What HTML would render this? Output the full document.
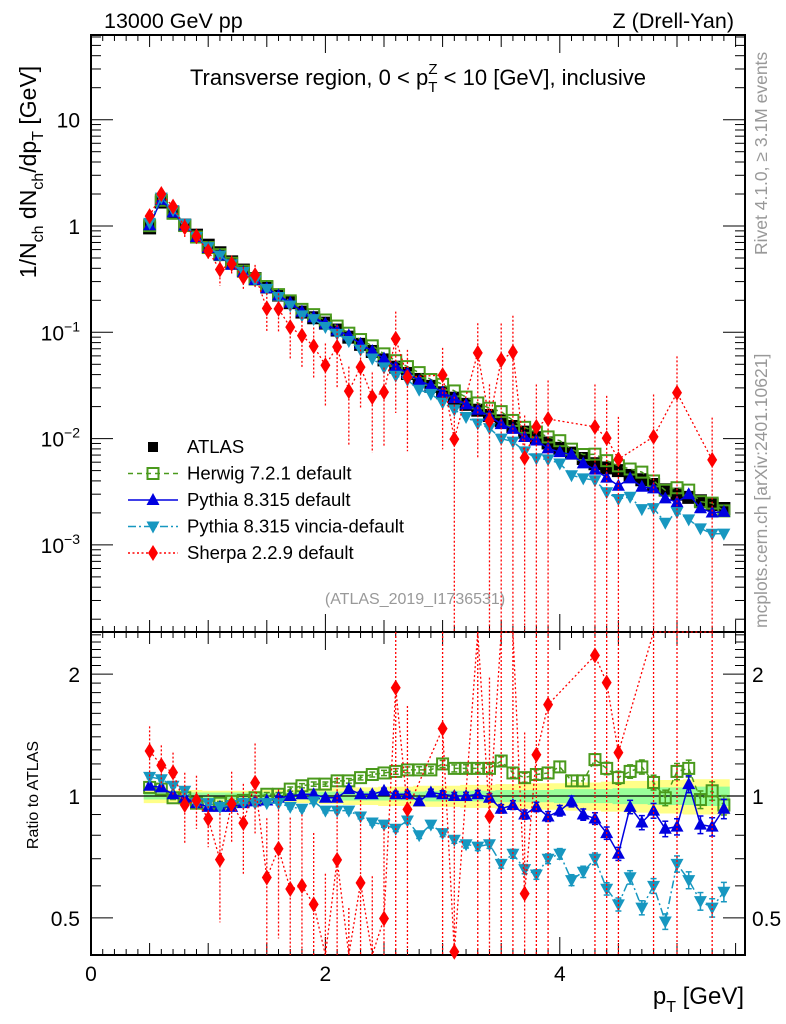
<!DOCTYPE html>
<html><head><meta charset="utf-8"><style>
html,body{margin:0;padding:0;background:#fff;}
svg{display:block;font-family:"Liberation Sans",Arial,sans-serif;}
</style></head><body>
<svg id="chart" width="786" height="1024" viewBox="0 0 786 1024" xmlns="http://www.w3.org/2000/svg">
<g id="bands"></g>
<g id="axes"></g>
<g id="series"></g>
<text x="104" y="28" font-size="21.5">13000 GeV pp</text>
<text x="734" y="28" font-size="21.5" text-anchor="end">Z (Drell-Yan)</text>
<text x="418" y="85" font-size="22" text-anchor="middle">Transverse region, 0 &lt; p<tspan dy="7" font-size="15">T</tspan><tspan dy="-18" dx="-9" font-size="15">Z</tspan><tspan dy="11"> &lt; 10 [GeV], inclusive</tspan></text>
<text transform="translate(36,172) rotate(-90)" font-size="23" text-anchor="middle">1/N<tspan dy="7" font-size="16">ch</tspan><tspan dy="-7"> dN</tspan><tspan dy="7" font-size="16">ch</tspan><tspan dy="-7">/dp</tspan><tspan dy="7" font-size="16">T</tspan><tspan dy="-7"> [GeV]</tspan></text>
<text transform="translate(38,795) rotate(-90)" font-size="16" text-anchor="middle">Ratio to ATLAS</text>
<text x="744" y="1004" font-size="24" text-anchor="end">p<tspan dy="8" font-size="16">T</tspan><tspan dy="-8"> [GeV]</tspan></text>
<text transform="translate(767,255) rotate(-90)" font-size="17.5" fill="#999">Rivet 4.1.0, ≥ 3.1M events</text>
<text transform="translate(767,628) rotate(-90)" font-size="17.5" fill="#999">mcplots.cern.ch [arXiv:2401.10621]</text>
<text x="415" y="604" font-size="16" fill="#999" text-anchor="middle">(ATLAS_2019_I1736531)</text>
<g id="legend"></g>
</svg>
<script>
const pT = [0.5,0.6,0.7,0.8,0.9,1.0,1.1,1.2,1.3,1.4,1.5,1.6,1.7,1.8,1.9,2.0,2.1,2.2,2.3,2.4,2.5,2.6,2.7,2.8,2.9,3.0,3.1,3.2,3.3,3.4,3.5,3.6,3.7,3.8,3.9,4.0,4.1,4.2,4.3,4.4,4.5,4.6,4.7,4.8,4.9,5.0,5.1,5.2,5.3,5.4];
const atlas = [0.96,1.68,1.33,1.02,0.82,0.66,0.56,0.46,0.385,0.32,0.267,0.224,0.19,0.155,0.137,0.122,0.105,0.09,0.077,0.066,0.055,0.047,0.041,0.036,0.031,0.027,0.024,0.021,0.0185,0.0165,0.0147,0.013,0.0115,0.0102,0.0091,0.0081,0.0073,0.0065,0.0058,0.0053,0.005,0.0045,0.0041,0.0037,0.0033,0.003,0.0028,0.0026,0.0024,0.0022];
const herwigRatio = [1.05,1.04,0.99,0.99,0.96,0.95,0.96,0.97,0.975,0.99,1.01,1.01,1.04,1.06,1.07,1.07,1.09,1.09,1.11,1.13,1.14,1.15,1.16,1.16,1.16,1.20,1.17,1.17,1.17,1.17,1.22,1.14,1.11,1.13,1.14,1.18,1.09,1.09,1.23,1.17,1.11,1.15,1.18,1.08,0.99,1.15,1.17,0.98,1.03,0.95];
const pythiaRatio = [1.06,1.05,1.01,0.99,0.96,0.94,0.94,0.94,0.96,0.97,0.975,0.99,1.0,1.01,1.01,0.99,0.99,1.04,1.01,1.01,1.03,1.01,1.01,0.97,1.02,1.01,1.0,1.0,1.01,0.99,0.93,0.95,0.90,0.94,0.89,0.92,0.97,0.90,0.88,0.81,0.72,0.94,0.86,0.92,0.83,0.84,1.07,0.85,0.84,0.93];
const vinciaRatio = [1.115,1.10,1.06,1.03,0.96,0.96,0.94,0.95,0.96,0.96,0.96,0.96,0.94,0.93,0.97,0.92,0.92,0.92,0.89,0.86,0.85,0.83,0.87,0.80,0.85,0.81,0.78,0.76,0.75,0.76,0.68,0.72,0.66,0.64,0.70,0.72,0.62,0.65,0.70,0.59,0.54,0.63,0.53,0.60,0.49,0.68,0.62,0.55,0.53,0.58];
const sherpa = [1.24,2.0,1.52,0.97,0.80,0.58,0.39,0.44,0.33,0.345,0.168,0.166,0.112,0.093,0.074,0.049,0.073,0.028,0.047,0.0246,0.0274,0.087,0.038,null,null,0.0396,0.0099,null,0.064,0.0147,0.055,0.065,0.0066,0.0129,0.0153,null,null,null,0.0129,0.0101,0.0064,null,null,0.0104,null,0.027,null,null,0.0063,null];
const sherpaErr = [0.15,0.12,0.12,0.2,0.15,0.15,0.3,0.2,0.25,0.25,0.4,0.4,0.5,0.5,0.5,0.6,0.6,0.7,0.6,0.7,0.7,0.8,0.8,0,0,0.8,1.5,0,0.9,1.2,1.2,1.2,1.5,1.5,1.3,0,0,0,1.5,1.5,1.5,0,0,1.5,0,1.2,0,0,1.5,0];
const mcErr = [0.01,0.01,0.01,0.01,0.01,0.01,0.01,0.01,0.01,0.01,0.01,0.01,0.012,0.012,0.012,0.012,0.012,0.013,0.013,0.014,0.015,0.016,0.017,0.018,0.019,0.02,0.02,0.021,0.022,0.023,0.024,0.025,0.026,0.027,0.028,0.03,0.031,0.032,0.033,0.035,0.037,0.038,0.04,0.042,0.044,0.046,0.048,0.05,0.052,0.055];
const bandInner = [0.02,0.02,0.02,0.02,0.02,0.02,0.02,0.02,0.02,0.02,0.02,0.02,0.02,0.02,0.025,0.025,0.025,0.025,0.025,0.025,0.025,0.025,0.025,0.025,0.03,0.03,0.03,0.03,0.03,0.03,0.035,0.035,0.035,0.035,0.035,0.04,0.04,0.04,0.04,0.04,0.045,0.045,0.045,0.05,0.05,0.05,0.05,0.055,0.055,0.055];
const bandOuter = [0.04,0.04,0.035,0.035,0.035,0.03,0.03,0.03,0.03,0.03,0.035,0.035,0.035,0.04,0.04,0.045,0.045,0.05,0.05,0.05,0.055,0.055,0.055,0.06,0.06,0.06,0.06,0.065,0.065,0.065,0.07,0.07,0.07,0.075,0.075,0.075,0.08,0.08,0.08,0.085,0.085,0.09,0.09,0.09,0.095,0.095,0.1,0.1,0.1,0.1];
const xTicks = [0,2,4];
const yMainTicks = ["10^-3","10^-2","10^-1","1","10"];
const yRatioTicks = [0.5,1,2];

const NS="http://www.w3.org/2000/svg";
const L=91,R=745,T=35,MB=632,B=955;
const X = v => L + v*117.2;
const Y = v => 226 - Math.log10(v)*106.3;
const YR = v => 796 - Math.log10(v)*405;
function mk(parent,tag,attrs){const e=document.createElementNS(NS,tag);for(const k in attrs)e.setAttribute(k,attrs[k]);parent.appendChild(e);return e;}
const axes=document.getElementById('axes'), ser=document.getElementById('series'), bands=document.getElementById('bands');

function bandPath(arr){let up='',dn='';for(let i=0;i<pT.length;i++){const x0=X(pT[i]-0.05),x1=X(pT[i]+0.05);up+=`L${x0},${YR(1+arr[i])}L${x1},${YR(1+arr[i])}`;dn=`L${x1},${YR(1-arr[i])}L${x0},${YR(1-arr[i])}`+dn;}return 'M'+up.slice(1)+dn+'Z';}
const bo=mk(bands,'path',{d:bandPath(bandOuter),fill:'#ffff88'});


const bi=mk(bands,'path',{d:bandPath(bandInner),fill:'#99ff99'});



const f1=mk(axes,'rect',{x:L,y:T,width:R-L,height:MB-T,fill:'none',stroke:'#000','stroke-width':2});


const f2=mk(axes,'rect',{x:L,y:MB,width:R-L,height:B-MB,fill:'none',stroke:'#000','stroke-width':2});


const one=mk(axes,'line',{x1:L,x2:R,y1:YR(1),y2:YR(1),stroke:'#000','stroke-width':1.2});



for(let v=0;v<=5.55;v+=0.1){const vv=Math.round(v*10)/10;const maj=Math.abs(vv-Math.round(vv/2)*2)<1e-6;const mid=Math.abs(vv*2-Math.round(vv*2))<1e-6;const len=maj?18:(mid?12:6);
 for(const [y0,s] of [[MB,-1],[B,-1],[T,1],[MB,1]]){mk(axes,'line',{x1:X(vv),x2:X(vv),y1:y0,y2:y0+s*len,stroke:'#000','stroke-width':1});}}
xTicks.forEach(v=>{const t=mk(axes,'text',{x:X(v),y:981,'font-size':21,'text-anchor':'middle'});t.textContent=v;

});

for(let d=-4;d<=1;d++){for(let m=1;m<=9;m++){const v=m*Math.pow(10,d);const y=Y(v);if(y<T||y>MB)continue;const len=m===1?22:10;
 mk(axes,'line',{x1:L,x2:L+len,y1:y,y2:y,stroke:'#000'});mk(axes,'line',{x1:R,x2:R-len,y1:y,y2:y,stroke:'#000'});}}
yMainTicks.forEach(s=>{let v,t;if(s.indexOf('^')>0){const e=+s.split('^')[1];v=Math.pow(10,e);t=mk(axes,'text',{x:80,y:Y(v)+8,'font-size':21,'text-anchor':'end'});
 t.innerHTML='10<tspan dy="-9" font-size="14">'+(e<0?'\u2212'+(-e):e)+'</tspan>';}else{v=+s;t=mk(axes,'text',{x:80,y:Y(v)+8,'font-size':21,'text-anchor':'end'});t.textContent=s;}
 
 });

[0.5,0.6,0.7,0.8,0.9,1,1.1,1.2,1.3,1.4,1.5,1.6,1.7,1.8,1.9,2,2.1,2.2,2.3,2.4,2.5].forEach(v=>{const y=YR(v);if(y<MB||y>B)return;const len=(v===0.5||v===1||v===2)?22:10;
 mk(axes,'line',{x1:L,x2:L+len,y1:y,y2:y,stroke:'#000'});mk(axes,'line',{x1:R,x2:R-len,y1:y,y2:y,stroke:'#000'});});
yRatioTicks.forEach(v=>{const t1=mk(axes,'text',{x:80,y:YR(v)+8,'font-size':21,'text-anchor':'end'});t1.textContent=v;
 
 
 const t2=mk(axes,'text',{x:752,y:YR(v)+8,'font-size':21});t2.textContent=v;
 
 });

function marker(g,type,x,y,col){const s=6.5;
 if(type==='sq')return mk(g,'rect',{x:x-s,y:y-s,width:2*s,height:2*s,fill:'#000'});
 if(type==='osq')return mk(g,'rect',{x:x-5.5,y:y-5.5,width:11,height:11,fill:'none',stroke:col,'stroke-width':2});
 if(type==='tri')return mk(g,'path',{d:`M${x},${y-7}L${x+6.5},${y+5}L${x-6.5},${y+5}Z`,fill:col});
 if(type==='itri')return mk(g,'path',{d:`M${x},${y+7}L${x+6.5},${y-5}L${x-6.5},${y-5}Z`,fill:col});
 if(type==='dia')return mk(g,'path',{d:`M${x},${y-8}L${x+5},${y}L${x},${y+8}L${x-5},${y}Z`,fill:col});}
function clipY(y,top,bot){return Math.max(top,Math.min(bot,y));}

const mcs=[
 {name:'herwig',ratio:herwigRatio,col:'#4a9a1c',type:'osq',dash:'5,4'},
 {name:'pythia',ratio:pythiaRatio,col:'#0000e0',type:'tri',dash:''},
 {name:'vincia',ratio:vinciaRatio,col:'#1797c0',type:'itri',dash:'8,3,2,3'}
];
const ga=mk(ser,'g',{});


pT.forEach((p,i)=>{const m=marker(ga,'sq',X(p),Y(atlas[i]));
 
 });

mcs.forEach(s=>{
 const g=mk(ser,'g',{});
 
 
 let dm='',dr='';
 pT.forEach((p,i)=>{const v=atlas[i]*s.ratio[i];dm+=(i?'L':'M')+X(p)+','+Y(v);dr+=(i?'L':'M')+X(p)+','+clipY(YR(s.ratio[i]),MB,B);});
 const a={fill:'none',stroke:s.col,'stroke-width':1.5};if(s.dash)a['stroke-dasharray']=s.dash;
 mk(g,'path',Object.assign({d:dm},a));mk(g,'path',Object.assign({d:dr},a));
 pT.forEach((p,i)=>{const v=atlas[i]*s.ratio[i];const x=X(p);
  const mm=marker(g,s.type,x,Y(v),s.col);
  
  
  const r=s.ratio[i],e=mcErr[i]*r;const y1=YR(r+e),y2=YR(r-e);
  mk(g,'line',{x1:x,x2:x,y1:y1,y2:y2,stroke:s.col,'stroke-width':1.5});
  mk(g,'line',{x1:x-3,x2:x+3,y1:y1,y2:y1,stroke:s.col,'stroke-width':1.5});
  mk(g,'line',{x1:x-3,x2:x+3,y1:y2,y2:y2,stroke:s.col,'stroke-width':1.5});
  const rm=marker(g,s.type,x,YR(r),s.col);
  
  });
});

const gs=mk(ser,'g',{});


let dm='',dr='',fm=true,fr=true;
pT.forEach((p,i)=>{const v=sherpa[i];if(v===null)return;const r=v/atlas[i];
 dm+=(fm?'M':'L')+X(p)+','+clipY(Y(v),T,MB);fm=false;
 dr+=(fr?'M':'L')+X(p)+','+clipY(YR(r),MB,B);fr=false;});
mk(gs,'path',{d:dm,fill:'none',stroke:'#ff0000','stroke-width':1.3,'stroke-dasharray':'2,2.5'});
mk(gs,'path',{d:dr,fill:'none',stroke:'#ff0000','stroke-width':1.3,'stroke-dasharray':'2,2.5'});
pT.forEach((p,i)=>{const v=sherpa[i];if(v===null)return;const x=X(p),e=sherpaErr[i];const r=v/atlas[i];
 const hi=v*(1+e),lo=v*(1-e);
 mk(gs,'line',{x1:x,x2:x,y1:clipY(Y(hi),T,MB),y2:lo>0?clipY(Y(lo),T,MB):MB,stroke:'#ff0000','stroke-width':1.3,'stroke-dasharray':'2,2'});
 const rh=r*(1+e),rl=r*(1-e);
 mk(gs,'line',{x1:x,x2:x,y1:clipY(YR(rh),MB,B),y2:rl>0?clipY(YR(rl),MB,B):B,stroke:'#ff0000','stroke-width':1.3,'stroke-dasharray':'2,2'});
 const ym=Y(v);if(ym>=T&&ym<=MB){const m=marker(gs,'dia',x,ym,'#ff0000');
  
  }
 const yr=YR(r);if(yr>=MB&&yr<=B){const m2=marker(gs,'dia',x,yr,'#ff0000');
  
  }
});

const lg=document.getElementById('legend');
const entries=[['ATLAS','sq','#000',null],['Herwig 7.2.1 default','osq','#4a9a1c','5,4'],['Pythia 8.315 default','tri','#0000e0',''],['Pythia 8.315 vincia-default','itri','#1797c0','8,3,2,3'],['Sherpa 2.2.9 default','dia','#ff0000','2,2.5']];
entries.forEach((en,k)=>{const y=447+k*26.5;const g=mk(lg,'g',{});
 
 
 if(en[3]!==null){const a={x1:128,x2:178,y1:y,y2:y,stroke:en[2],'stroke-width':1.5};if(en[3])a['stroke-dasharray']=en[3];mk(g,'line',a);}
 if(en[1]==='sq')mk(g,'rect',{x:148,y:y-5,width:10,height:10,fill:'#000'});else marker(g,en[1],153,y,en[2]);
 const t=mk(g,'text',{x:187,y:y+6,'font-size':18.5});t.textContent=en[0];});
</script>
</body></html>
